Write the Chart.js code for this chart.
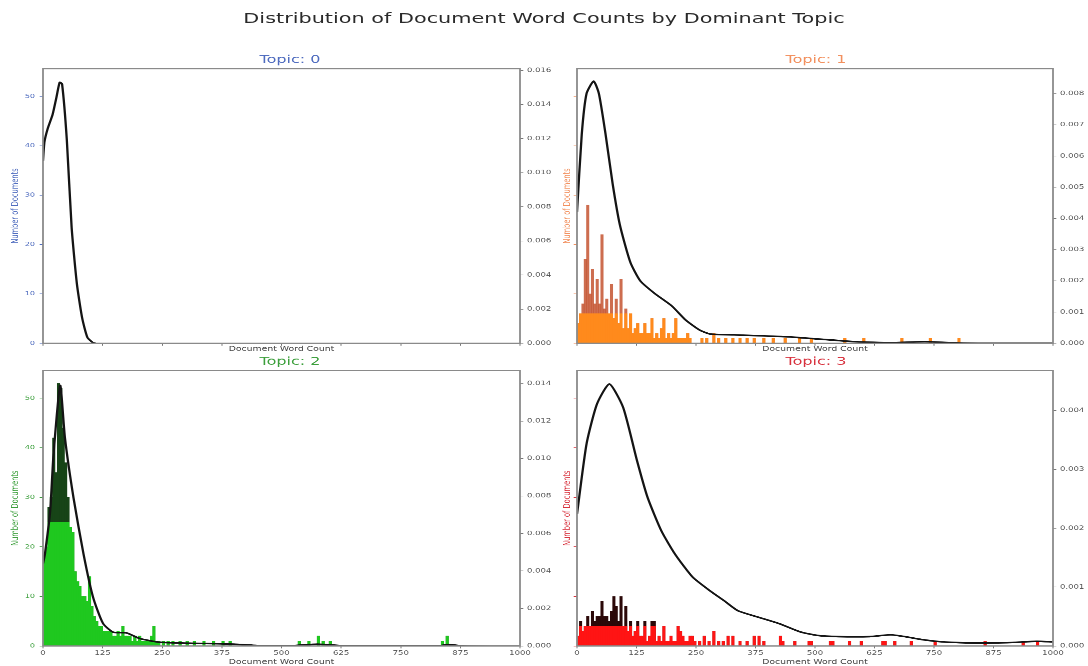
<!DOCTYPE html>
<html>
<head>
<meta charset="utf-8">
<script src="https://cdn.jsdelivr.net/npm/chart.js@4.4.1/dist/chart.umd.min.js"></script>
<style>
  html, body { margin: 0; padding: 0; background: #fff; overflow: hidden; }
  /* the source figure was squashed vertically, so draw tall and squash the same way */
  #fig { position: absolute; left: 0; top: 0; width: 1088px; height: 952px;
         transform: scale(1, 0.6996); transform-origin: 0 0; }
  #fig canvas { position: absolute; }
  #suptitle { position: absolute; left: 0; top: 14px; width: 1088px; text-align: center;
              font: 20.8px 'DejaVu Sans'; line-height: 24px; color: #2a2a2a; }
</style>
</head>
<body>
<div id="fig">
  <div id="suptitle">Distribution of Document Word Counts by Dominant Topic</div>
  <canvas id="c0" width="580" height="480" style="left:0;top:40px"></canvas>
  <canvas id="c1" width="544" height="480" style="left:544px;top:40px"></canvas>
  <canvas id="c2" width="580" height="462" style="left:0;top:490px"></canvas>
  <canvas id="c3" width="544" height="462" style="left:544px;top:490px"></canvas>
</div>
<script>
const titles = ['Topic: 0', 'Topic: 1', 'Topic: 2', 'Topic: 3'];
const xTicks = [0, 125, 250, 375, 500, 625, 750, 875, 1000];
const countMax = 55.6;
const densityMax = [0.0161, 0.0088, 0.0147, 0.00468];
const densityStep = [0.002, 0.001, 0.002, 0.001];

// histogram: number of documents per 5-word bin, starting at 0 words
const BIN = 5;
const hist0 = [];
const hist1 = [4, 6, 8, 17, 28, 10, 15, 8, 13, 8, 22, 7, 9, 6, 12, 5, 9, 4, 13, 3,
               7, 3, 6, 2, 3, 4, 2, 2, 4, 2, 2, 5, 1, 2, 1, 3, 5, 1, 2, 1,
               2, 5, 1, 1, 1, 1, 2, 1];
const hist2 = [18, 20, 28, 30, 42, 35, 53, 52, 44, 37, 30, 24, 23, 15, 13, 12, 10, 10, 9, 14,
               8, 6, 5, 4, 4, 3, 3, 3, 3, 2, 2, 3, 2, 4, 2, 2, 2, 1, 2, 1,
               2, 1, 1, 1, 1, 2, 4, 1, 1];
const hist3 = [2, 5, 3, 4, 6, 4, 7, 5, 6, 6, 9, 6, 6, 5, 7, 10, 8, 5, 10, 4,
               8, 3, 5, 2, 3, 5, 2, 2, 5, 1, 2, 5, 5, 1, 2, 1, 4, 1, 1, 2,
               1, 1, 4, 3, 2, 1, 1, 2, 2, 1];
// long tails: [bin start, documents]
const tail0 = [];
const tail1 = [[260, 1], [270, 1], [285, 2], [295, 1], [310, 1], [325, 1], [340, 1], [355, 1],
               [370, 1], [390, 1], [410, 1], [435, 1], [465, 1], [490, 1], [560, 1], [600, 1],
               [680, 1], [740, 1], [800, 1]];
const tail2 = [[250, 1], [260, 1], [270, 1], [285, 1], [300, 1], [315, 1], [335, 1], [355, 1],
               [375, 1], [390, 1], [535, 1], [555, 1], [575, 2], [585, 1], [600, 1], [835, 1],
               [845, 2]];
const tail3 = [[255, 1], [265, 2], [275, 1], [285, 3], [295, 1], [305, 1], [315, 2], [325, 2],
               [340, 1], [355, 1], [370, 2], [380, 2], [390, 1], [425, 2], [430, 1], [455, 1],
               [485, 1], [490, 1], [530, 1], [535, 1], [570, 1], [595, 1], [640, 1], [645, 1],
               [665, 1], [700, 1], [750, 1], [855, 1], [935, 1], [965, 1]];

// density curves (kde)
const kdeX0 = [0, 3, 10, 20, 28, 35, 40, 50, 60, 71, 82, 93, 104, 110];
const kdeY0 = [0.0107, 0.0118, 0.0126, 0.0134, 0.0144, 0.0153, 0.0152, 0.0119, 0.0068, 0.0035,
               0.0015, 0.00035, 0.00005, 0];
const kdeX1 = [0, 10, 20, 35, 46, 60, 75, 90, 112, 133, 163, 199, 228, 257, 279, 330, 440,
               513, 586, 659, 731, 805, 877, 1000];
const kdeY1 = [0.0042, 0.0067, 0.0080, 0.0084, 0.0080, 0.0067, 0.0051, 0.0038, 0.0026, 0.0020,
               0.0016, 0.0012, 0.00075, 0.00043, 0.0003, 0.00027, 0.00021, 0.00013, 0.00005,
               0.00002, 0.00005, 0.00001, 0, 0];
const kdeX2 = [0, 4, 15, 22, 36, 46, 64, 85, 105, 126, 147, 175, 203, 245, 308, 400, 450, 520,
               575, 630, 830, 850, 880, 1000];
const kdeY2 = [0.0044, 0.0049, 0.0072, 0.0102, 0.0139, 0.0111, 0.0079, 0.0049, 0.0026, 0.0012,
               0.00074, 0.0007, 0.0004, 0.0002, 0.00015, 0.0001, 0.00003, 0.00002, 0.0001,
               0.00002, 0.00002, 0.00008, 0.00001, 0];
const kdeX3 = [0, 20, 42, 68, 97, 126, 148, 177, 206, 243, 279, 309, 338, 381, 425, 469, 505,
               549, 615, 659, 688, 724, 768, 841, 914, 965, 1000];
const kdeY3 = [0.00224, 0.00343, 0.00411, 0.00445, 0.00405, 0.00315, 0.00253, 0.00196, 0.00156,
               0.00117, 0.00094, 0.00077, 0.0006, 0.00049, 0.00038, 0.00024, 0.00018, 0.00016,
               0.00016, 0.00019, 0.00016, 0.00011, 0.00007, 0.00005, 0.00006, 0.00008, 0.00007];

const hists = [hist0, hist1, hist2, hist3];
const tails = [tail0, tail1, tail2, tail3];
const kdeXs = [kdeX0, kdeX1, kdeX2, kdeX3];
const kdeYs = [kdeY0, kdeY1, kdeY2, kdeY3];

const topicColors = ['#4f6cbf', '#f2905e', '#3c9f3c', '#d8323e'];
const barColors = ['#1f77b4', '#ff8a1c', '#1fc81f', '#ff1414'];
const spikeColors = ['#1f4f7a', 'rgba(196,84,48,0.85)', '#174417', '#2b0808'];
const fillLevel = [0, 6, 25, 4];   // height where the solid colour gives way to dark spikes

const FONT = 'DejaVu Sans';

// closed box round the plot, like matplotlib spines
const framePlugin = {
  id: 'frame',
  afterDatasetsDraw(chart) {
    const a = chart.chartArea, ctx = chart.ctx;
    ctx.save();
    ctx.strokeStyle = '#8a8a8a';
    ctx.lineWidth = 1.8;
    ctx.strokeRect(a.left, a.top, a.right - a.left, a.bottom - a.top);
    ctx.restore();
  }
};

function makePanel(i) {
  const isTop = i < 2, isLeft = i % 2 === 0;
  const pts = hists[i].map((c, k) => ({x: k * BIN + BIN / 2, y: c}))
    .concat(tails[i].map(p => ({x: p[0] + BIN / 2, y: p[1]})));
  const base = pts.map(p => ({x: p.x, y: Math.min(p.y, fillLevel[i])}));
  const kde = kdeXs[i].map((x, k) => ({x: x, y: kdeYs[i][k]}));

  const datasets = [{
    type: 'line', data: kde, yAxisID: 'y2', order: 0,
    borderColor: '#141414', borderWidth: 2.3, pointRadius: 0,
    tension: 0.2, fill: false
  }];
  if (pts.length) {
    datasets.push({
      type: 'bar', data: base, yAxisID: 'y', order: 1, grouped: false,
      backgroundColor: barColors[i], barPercentage: 1, categoryPercentage: 1
    }, {
      type: 'bar', data: pts, yAxisID: 'y', order: 2, grouped: false,
      backgroundColor: spikeColors[i], barPercentage: 1, categoryPercentage: 1
    });
  }

  const leftW = isLeft ? 43 : 33;
  const rightW = isLeft ? 60 : 35;
  const xH = isTop ? 29.3 : 28.6;

  new Chart(document.getElementById('c' + i), {
    type: 'bar',
    data: {datasets: datasets},
    plugins: [framePlugin],
    options: {
      responsive: false,
      animation: false,
      devicePixelRatio: 2,
      layout: {padding: 0},
      plugins: {
        legend: {display: false},
        tooltip: {enabled: false},
        title: {
          display: true, text: titles[i], color: topicColors[i],
          font: {family: FONT, size: 16, weight: 'normal'},
          padding: isTop ? {top: 36.2, bottom: 2.8} : {top: 17.8, bottom: 2.5}
        }
      },
      scales: {
        x: {
          type: 'linear', min: 0, max: 1000, offset: false,
          afterBuildTicks: s => { s.ticks = xTicks.map(v => ({value: v})); },
          afterFit: s => { s.height = xH; },
          border: {display: false},
          grid: {display: true, drawOnChartArea: false, drawTicks: true, tickLength: 3.3,
                 color: '#777', offset: false},
          ticks: {display: !isTop, color: '#555', padding: 1.8, maxRotation: 0,
                  font: {family: FONT, size: 8.5}, callback: v => String(v)},
          title: {display: true, text: 'Document Word Count', color: '#444',
                  font: {family: FONT, size: 9.3},
                  padding: {top: 0, bottom: isTop ? 15.5 : 0}}
        },
        y: {
          position: 'left', min: 0, max: countMax,
          afterFit: s => { s.width = leftW; },
          border: {display: false},
          grid: {display: true, drawOnChartArea: false, drawTicks: true, tickLength: 3.3,
                 color: topicColors[i]},
          ticks: {display: isLeft, stepSize: 10, includeBounds: false, color: topicColors[i],
                  padding: 4.7, font: {family: FONT, size: 8}},
          title: {display: true, text: 'Number of Documents', color: topicColors[i],
                  font: {family: FONT, size: 9.5},
                  padding: {top: isLeft ? 9.9 : 17.8, bottom: 0}}
        },
        y2: {
          position: 'right', min: 0, max: densityMax[i],
          afterFit: s => { s.width = rightW; },
          border: {display: false},
          grid: {display: true, drawOnChartArea: false, drawTicks: true, tickLength: 3.3,
                 color: '#777'},
          ticks: {stepSize: densityStep[i], includeBounds: false, color: '#555', padding: 3.7,
                  font: {family: FONT, size: 8.5},
                  callback: v => v.toFixed(3)}
        }
      }
    }
  });
}

[0, 1, 2, 3].forEach(makePanel);
</script>
</body>
</html>
